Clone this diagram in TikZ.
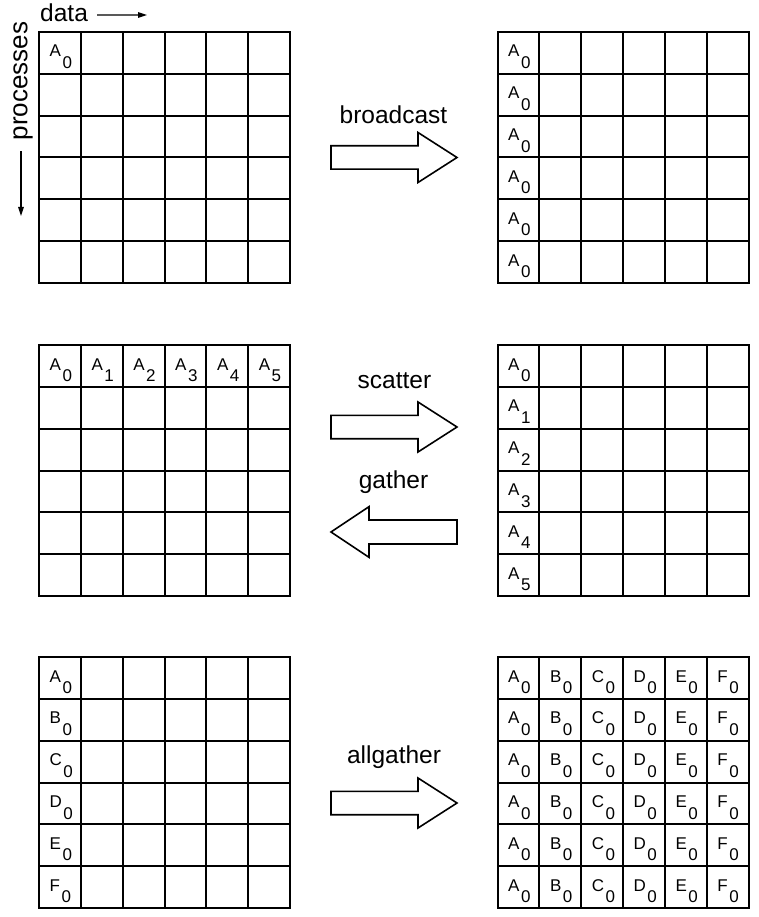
\documentclass[tikz,border=0pt]{standalone}
\usepackage{fontspec}
\setmainfont{Liberation Sans}
\usetikzlibrary{arrows.meta}
\begin{document}
\begin{tikzpicture}[x=1pt,y=-1pt,
  gridline/.style={line width=2pt},
  cell/.style={anchor=base west,inner sep=0pt,font=\fontsize{17}{17}\selectfont},
  oplabel/.style={anchor=base,inner sep=0pt,font=\fontsize{24.5}{24.5}\selectfont},
  blockarrow/.style={line width=1.6pt,line join=miter,fill=white},
  axis/.style={line width=1.3pt,-{Triangle[length=9pt,width=5.5pt]}}]
\useasboundingbox (0,0) rectangle (759,917);
\def\cs{41.833}
\newcommand\gridat[2]{%
  \draw[gridline] (#1,#2) rectangle ++(251,251);
  \foreach \i in {1,...,5} {
    \draw[gridline] ({#1+\i*\cs},#2) -- ({#1+\i*\cs},{#2+251});
    \draw[gridline] (#1,{#2+\i*\cs}) -- ({#1+251},{#2+\i*\cs});
  }}
\newcommand\cl[7]{% name, gx, gy, col, row, letter, sub
  \node[cell] (#1) at ({#2+#4*\cs+10.5},{#3+#5*\cs+25}) {#6\kern1.5pt\raisebox{-11.5pt}{#7}};}
\newcommand\rarrow[1]{\draw[blockarrow] (331,{#1-11.7}) -- (418,{#1-11.7}) -- (418,{#1-25}) -- (457,#1) -- (418,{#1+25}) -- (418,{#1+11.7}) -- (331,{#1+11.7}) -- cycle;}
\newcommand\larrow[1]{\draw[blockarrow] (457,{#1-12}) -- (369,{#1-12}) -- (369,{#1-25.3}) -- (331,#1) -- (369,{#1+25.3}) -- (369,{#1+12}) -- (457,{#1+12}) -- cycle;}

% grids
\gridat{39}{32}
\gridat{497.5}{32}
\gridat{39}{345}
\gridat{497.5}{345}
\gridat{39}{657}
\gridat{497.5}{657}

% axis labels
\node[anchor=base west,inner sep=0pt,font=\fontsize{24.5}{24.5}\selectfont] (data) at (40,21.5) {data};
\coordinate (dataend) at (147,15);
\draw[axis] ([shift={(9,2.3)}]data.east) -- (dataend);
\node[rotate=90,inner sep=0pt,font=\fontsize{26}{26}\selectfont] (proc) at (23,81) {processes};
\coordinate (procend) at (21,216);
\draw[axis] ([shift={(-2,11)}]proc.west) -- (procend);

% broadcast
\cl{bl}{39}{32}{0}{0}{A}{0}
\foreach \r in {0,...,5} {\cl{br\r}{497.5}{32}{0}{\r}{A}{0}}
\node[oplabel] (lbroad) at (393.5,123.3) {broadcast};
\rarrow{157.5}

% scatter / gather
\foreach \c in {0,...,5} {\cl{sl\c}{39}{345}{\c}{0}{A}{\c}}
\foreach \r in {0,...,5} {\cl{sr\r}{497.5}{345}{0}{\r}{A}{\r}}
\node[oplabel] (lscat) at (394.5,388.3) {scatter};
\rarrow{427}
\node[oplabel] (lgath) at (393.5,488) {gather};
\larrow{532}

% allgather
\foreach \r/\L in {0/A,1/B,2/C,3/D,4/E,5/F} {\cl{al\r}{39}{657}{0}{\r}{\L}{0}}
\foreach \r in {0,...,5} {
  \foreach \c/\L in {0/A,1/B,2/C,3/D,4/E,5/F} {\cl{ar\r\c}{497.5}{657}{\c}{\r}{\L}{0}}}
\node[oplabel] (lallg) at (394,763.3) {allgather};
\rarrow{803}
\end{tikzpicture}
\end{document}
